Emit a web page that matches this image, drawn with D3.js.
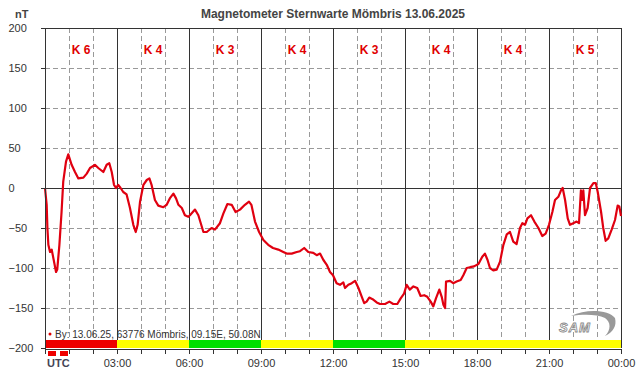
<!DOCTYPE html>
<html lang="de">
  <head>
    <meta charset="utf-8">
    <title>Magnetometer Sternwarte Mömbris</title>
    <script src="https://cdn.jsdelivr.net/npm/d3@7"></script>
    <style>
      body { margin: 0; background: #fff; }
      svg { display: block; font-family: "Liberation Sans", Arial, sans-serif; }
      .grid line { stroke: #999; stroke-dasharray: 5,3; shape-rendering: crispEdges; }
      .axis path, .axis line { stroke: #333; shape-rendering: crispEdges; }
      .axis text { fill: #333; font-size: 11px; }
    </style>
  </head>
  <body>
    <script>

      // hour of day (UTC) and field value in nT
      var hours = [0, 0.07, 0.1, 0.14, 0.21, 0.28, 0.35, 0.46, 0.51, 0.6, 0.69, 0.76, 0.875, 0.97,
        1.11, 1.25, 1.39, 1.6, 1.74, 1.875, 2.08, 2.22, 2.43, 2.57, 2.68, 2.78, 2.875, 2.96,
        3.05, 3.15, 3.26, 3.4, 3.54, 3.68, 3.78, 3.86, 3.96, 4.1, 4.24, 4.35, 4.44, 4.58, 4.72,
        4.93, 5.07, 5.2, 5.35, 5.46, 5.56, 5.7, 5.83, 5.97, 6.04, 6.25, 6.39, 6.6, 6.74, 6.94,
        7.08, 7.29, 7.43, 7.6, 7.78, 7.94, 8.125, 8.33, 8.5, 8.6, 8.75, 8.92, 9.1, 9.3, 9.5,
        9.72, 9.93, 10.07, 10.28, 10.49, 10.625, 10.8, 10.97, 11.18, 11.32, 11.46, 11.6, 11.74,
        11.875, 12.0, 12.15, 12.29, 12.43, 12.5, 12.64, 12.78, 12.92, 13.06, 13.2, 13.3, 13.4,
        13.51, 13.65, 13.82, 13.96, 14.17, 14.35, 14.51, 14.68, 14.82, 14.96, 15.07, 15.2,
        15.35, 15.51, 15.65, 15.8, 15.93, 16.07, 16.18, 16.29, 16.43, 16.53, 16.6, 16.67,
        16.71, 16.875, 17.01, 17.15, 17.32, 17.43, 17.57, 17.71, 17.875, 18.06, 18.22, 18.33,
        18.44, 18.54, 18.68, 18.82, 18.96, 19.1, 19.24, 19.375, 19.51, 19.65, 19.79, 19.89,
        20.0, 20.1, 20.25, 20.39, 20.56, 20.72, 20.86, 21.0, 21.14, 21.25, 21.39, 21.5, 21.57,
        21.67, 21.78, 21.875, 22.01, 22.15, 22.25, 22.33, 22.39, 22.43, 22.5, 22.61, 22.71,
        22.85, 22.95, 23.03, 23.17, 23.26, 23.36, 23.47, 23.61, 23.75, 23.86, 23.93, 24.0];

      var nT = [0, -21, -50, -71, -80, -77, -88, -105, -102, -71, -30, 8, 33, 42,
        29, 20, 12, 13, 18, 25, 29, 25, 20, 29, 31, 20, 4, 0,
        4, 0, -5, -8, -25, -46, -55, -46, -17, 4, 10, 12, 4, -15, -22,
        -24, -21, -13, -7, -13, -21, -25, -34, -36, -34, -27, -34, -55, -55, -50,
        -52, -44, -32, -20, -21, -30, -27, -21, -17, -21, -42, -55, -65, -71, -75,
        -77, -80, -82, -82, -80, -79, -75, -80, -81, -84, -82, -90, -96,
        -105, -109, -119, -121, -118, -125, -121, -119, -116, -125, -136, -144, -142,
        -137, -139, -143, -145, -145, -142, -145, -145, -138, -132, -121, -127,
        -123, -125, -135, -134, -136, -142, -148, -138, -127, -136, -146, -150,
        -117, -116, -119, -117, -115, -109, -100, -99, -98, -95, -86, -82,
        -90, -100, -103, -102, -92, -71, -58, -55, -67, -70, -50, -44,
        -46, -38, -34, -42, -50, -60, -57, -46, -30, -15, -11, -3, 0,
        -15, -38, -46, -44, -42, -44, -3, -15, -3, -34, -25, 0,
        6, 6, -5, -30, -50, -66, -63, -52, -40, -22, -23, -35];

      // K index per 3-hour block and the colour strip under the plot
      var kLabels = ["K 6", "K 4", "K 3", "K 4", "K 3", "K 4", "K 4", "K 5"];
      var kColors = ["#ee0000", "#ffff00", "#00e000", "#ffff00", "#00e000", "#ffff00", "#ffff00", "#ffff00"];

      var yTicks = [200, 150, 100, 50, 0, -50, -100, -150, -200];
      var xTickLabels = ["", "03:00", "06:00", "09:00", "12:00", "15:00", "18:00", "21:00", "00:00"];

      var w = 642, h = 376;
      var padL = 45, padR = 621, padT = 28, padB = 348;

      var x = d3.scaleLinear().domain([0, 24]).range([padL, padR]);
      var y = d3.scaleLinear().domain([-200, 200]).range([padB, padT]);

      var svg = d3.select("body").append("svg")
        .attr("width", w)
        .attr("height", h);

      //dashed grid
      var grid = svg.append("g").attr("class", "grid");
      grid.selectAll(".v").data(d3.range(1, 24).filter(function(d) { return d % 3 != 0; }))
        .enter().append("line")
        .attr("x1", function(d) { return Math.round(x(d)) + 0.5; })
        .attr("x2", function(d) { return Math.round(x(d)) + 0.5; })
        .attr("y1", padT).attr("y2", padB);
      grid.selectAll(".h").data(yTicks.filter(function(d) { return d != 0 && Math.abs(d) != 200; }))
        .enter().append("line")
        .attr("x1", padL).attr("x2", padR)
        .attr("y1", function(d) { return Math.round(y(d)) + 0.5; })
        .attr("y2", function(d) { return Math.round(y(d)) + 0.5; });

      //solid lines every 3 hours, zero line and frame
      var solid = svg.append("g").attr("stroke", "#333").attr("shape-rendering", "crispEdges");
      solid.selectAll("line.t").data(d3.range(3, 25, 3))
        .enter().append("line")
        .attr("x1", function(d) { return Math.round(x(d)) + 0.5; })
        .attr("x2", function(d) { return Math.round(x(d)) + 0.5; })
        .attr("y1", padT).attr("y2", padB);
      solid.append("line").attr("x1", padL).attr("x2", padR)
        .attr("y1", Math.round(y(0)) + 0.5).attr("y2", Math.round(y(0)) + 0.5);
      solid.append("line").attr("x1", padL).attr("x2", padR)
        .attr("y1", Math.round(y(200)) + 0.5).attr("y2", Math.round(y(200)) + 0.5);

      //K index strip
      svg.selectAll("rect.k").data(kColors)
        .enter().append("rect")
        .attr("x", function(d, i) { return x(i * 3); })
        .attr("width", x(3) - x(0))
        .attr("y", padB - 8)
        .attr("height", 8)
        .attr("fill", function(d) { return d; });

      //K labels
      svg.selectAll("text.k").data(kLabels)
        .enter().append("text")
        .attr("x", function(d, i) { return x(i * 3 + 1.5); })
        .attr("y", 54)
        .attr("text-anchor", "middle")
        .attr("fill", "#e00000")
        .attr("font-size", "12px")
        .attr("font-weight", "bold")
        .text(function(d) { return d; });

      //data line
      var line = d3.line()
        .x(function(d, i) { return x(hours[i]); })
        .y(function(d) { return y(d); });

      svg.append("path")
        .datum(nT)
        .attr("fill", "none")
        .attr("stroke", "#e00010")
        .attr("stroke-width", 2.2)
        .attr("stroke-linejoin", "round")
        .attr("d", line);

      //Y axis
      var yAxis = d3.axisLeft(y).tickValues(yTicks).tickSize(5).tickPadding(0);
      var gy = svg.append("g").attr("class", "axis")
        .attr("transform", "translate(" + (padL + 0.5) + ",0)")
        .call(yAxis);
      gy.select(".domain").attr("d", "M0," + padT + "V" + padB);
      gy.selectAll("text").attr("text-anchor", "start").attr("x", 8 - padL).attr("dy", "0.35em");

      //X axis
      var xAxis = d3.axisBottom(x).tickValues(d3.range(0, 25)).tickSize(5)
        .tickFormat(function(d) { return d % 3 == 0 ? xTickLabels[d / 3] : ""; });
      svg.append("g").attr("class", "axis")
        .attr("transform", "translate(0," + (padB + 0.5) + ")")
        .call(xAxis)
        .selectAll("text").attr("dy", "0.95em");

      svg.append("text").attr("x", 47).attr("y", 367)
        .attr("fill", "#445").attr("font-size", "11px").attr("font-weight", "bold")
        .text("UTC");

      //red markers under strip
      svg.selectAll("rect.m").data([48, 60])
        .enter().append("rect")
        .attr("x", function(d) { return d; })
        .attr("y", padB + 3)
        .attr("width", 8).attr("height", 5)
        .attr("fill", "#ee0000");

      //titles
      svg.append("text").attr("x", 333).attr("y", 18)
        .attr("text-anchor", "middle").attr("font-size", "12px").attr("font-weight", "bold")
        .attr("fill", "#444")
        .text("Magnetometer Sternwarte Mömbris 13.06.2025");
      svg.append("text").attr("x", 15).attr("y", 18)
        .attr("font-size", "11px").attr("font-weight", "bold").attr("fill", "#444")
        .text("nT");

      //station note
      svg.append("circle").attr("cx", 50).attr("cy", 334).attr("r", 1.5).attr("fill", "#e00000");
      svg.append("text").attr("x", 55).attr("y", 338)
        .attr("font-size", "10px").attr("fill", "#333")
        .text("By: 13.06.25, 63776 Mömbris, 09.15E, 50.08N");

      //SAM logo
      var logo = svg.append("g").attr("transform", "translate(557,312)");
      logo.append("path")
        .attr("d", "M14,4 C30,-4 52,-2 58,6 C60,14 56,20 48,24 C54,18 54,10 48,6 C40,2 26,2 14,4 Z")
        .attr("fill", "#999");
      logo.append("text").attr("x", 2).attr("y", 20)
        .attr("font-size", "13px").attr("font-style", "italic").attr("font-weight", "bold")
        .attr("fill", "#fff").attr("stroke", "#888").attr("stroke-width", 0.8)
        .attr("letter-spacing", "1")
        .text("SAM");

    </script>
  </body>
</html>
